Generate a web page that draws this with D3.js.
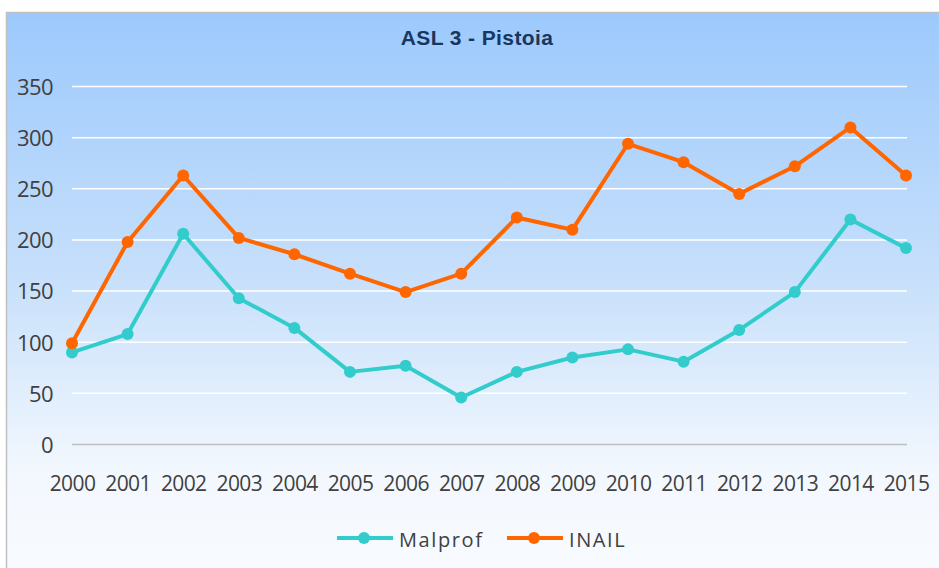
<!DOCTYPE html>
<html>
<head>
<meta charset="utf-8">
<script src="https://cdn.jsdelivr.net/npm/d3@7"></script>
<style>
  body { margin: 0; background: #fff; }
  svg { display: block; }
</style>
</head>
<body>
<div id="chart"></div>
<script>
const years = ["2000","2001","2002","2003","2004","2005","2006","2007","2008","2009","2010","2011","2012","2013","2014","2015"];
const malprof = [90, 108, 206, 143, 114, 71, 77, 46, 71, 85, 93, 81, 112, 149, 220, 192];
const inail = [99, 198, 263, 202, 186, 167, 149, 167, 222, 210, 294, 276, 245, 272, 310, 263];
const yTicks = [0, 50, 100, 150, 200, 250, 300, 350];
const series = [
  { name: "Malprof", values: malprof, color: "#33CCCC" },
  { name: "INAIL", values: inail, color: "#FF6600" }
];

const width = 939, height = 568;
const labelFont = "Open Sans, Liberation Sans, sans-serif";

const svg = d3.select("#chart").append("svg")
  .attr("width", width)
  .attr("height", height);

const grad = svg.append("defs").append("linearGradient")
  .attr("id", "bg")
  .attr("x1", 0).attr("y1", 0).attr("x2", 0).attr("y2", 1);
grad.append("stop").attr("offset", "0%").attr("stop-color", "#9CC9FD");
grad.append("stop").attr("offset", "45%").attr("stop-color", "#C6DFFB");
grad.append("stop").attr("offset", "80%").attr("stop-color", "#F3F8FE");
grad.append("stop").attr("offset", "100%").attr("stop-color", "#F9FBFF");

// chart area with border (runs off right and bottom edges)
svg.append("rect")
  .attr("x", 6.5).attr("y", 12.5)
  .attr("width", width + 10).attr("height", height + 10)
  .attr("fill", "url(#bg)")
  .attr("stroke", "#C0C0C0")
  .attr("stroke-width", 1.5);

svg.append("text")
  .attr("x", 477).attr("y", 44.5)
  .attr("text-anchor", "middle")
  .attr("font-family", "Liberation Sans, Arial, sans-serif")
  .attr("font-weight", "bold")
  .attr("font-size", 21)
  .attr("letter-spacing", 0.4)
  .attr("fill", "#17375E")
  .text("ASL 3 - Pistoia");

const x = d3.scalePoint()
  .domain(years)
  .range([72, 906]);

const y = d3.scaleLinear()
  .domain([0, 350])
  .range([444.5, 86.5]);

// gridlines
svg.append("g")
  .selectAll("line")
  .data(yTicks)
  .enter()
  .append("line")
  .attr("x1", 72).attr("x2", 907)
  .attr("y1", d => y(d)).attr("y2", d => y(d))
  .attr("stroke", d => d === 0 ? "#BFBFBF" : "#FFFFFF")
  .attr("stroke-width", 1.5);

// y axis labels
const yAxis = svg.append("g")
  .attr("transform", "translate(60,0)")
  .call(d3.axisLeft(y).tickValues(yTicks).tickSize(0).tickPadding(7));
yAxis.select(".domain").remove();
yAxis.selectAll("text")
  .attr("font-family", labelFont)
  .attr("font-size", 22)
  .attr("letter-spacing", -0.6)
  .attr("fill", "#404040")
  .attr("dy", "0.36em");

// x axis labels
const xAxis = svg.append("g")
  .attr("transform", "translate(0,473)")
  .call(d3.axisBottom(x).tickSize(0).tickPadding(0));
xAxis.select(".domain").remove();
xAxis.selectAll("text")
  .attr("font-family", labelFont)
  .attr("font-size", 21)
  .attr("letter-spacing", -0.6)
  .attr("fill", "#404040")
  .attr("dy", "0.86em");

const line = d3.line()
  .x((d, i) => x(years[i]))
  .y(d => y(d));

series.forEach(s => {
  const g = svg.append("g");
  g.append("path")
    .attr("d", line(s.values))
    .attr("fill", "none")
    .attr("stroke", s.color)
    .attr("stroke-width", 4)
    .attr("stroke-linejoin", "round");
  g.selectAll("circle")
    .data(s.values)
    .enter()
    .append("circle")
    .attr("cx", (d, i) => x(years[i]))
    .attr("cy", d => y(d))
    .attr("r", 6)
    .attr("fill", s.color);
});

// legend
const legendPos = [337, 507];
const legend = svg.append("g");
series.forEach((s, i) => {
  const lx = legendPos[i];
  legend.append("line")
    .attr("x1", lx).attr("x2", lx + 56)
    .attr("y1", 538).attr("y2", 538)
    .attr("stroke", s.color)
    .attr("stroke-width", 4);
  legend.append("circle")
    .attr("cx", lx + 27).attr("cy", 538)
    .attr("r", 6)
    .attr("fill", s.color);
  legend.append("text")
    .attr("x", lx + 62).attr("y", 540)
    .attr("dy", "0.36em")
    .attr("font-family", labelFont)
    .attr("font-size", 20)
    .attr("letter-spacing", 1.6)
    .attr("fill", "#404040")
    .text(s.name);
});
</script>
</body>
</html>
